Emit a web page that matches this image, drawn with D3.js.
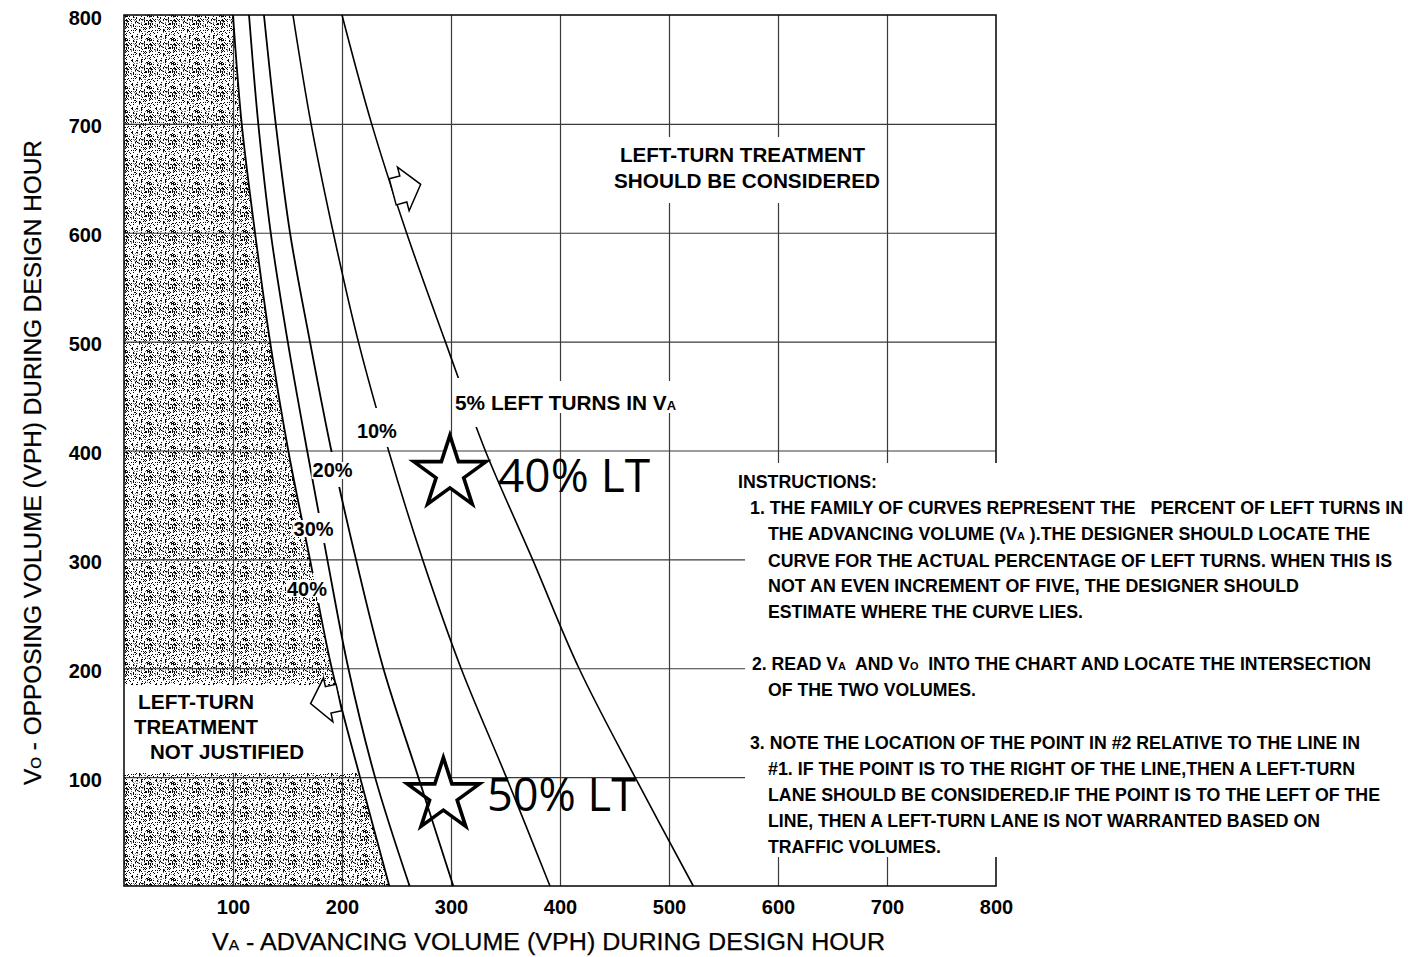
<!DOCTYPE html>
<html><head><meta charset="utf-8">
<script src="https://cdn.jsdelivr.net/npm/d3@7"></script>
<style>
html,body{margin:0;padding:0;background:#fff;}
svg{display:block;}
text{font-family:"Liberation Sans",Arial,Helvetica,sans-serif;fill:#000;white-space:pre;}
.heavy{stroke:#000;stroke-width:0.25px;}
</style></head><body>
<svg id="chart" width="1408" height="957"></svg>
<script>
// ---------------- DATA ----------------
const opposingVolumes = [800, 700, 600, 500, 400, 300, 200, 100, 0];        // Vo (vph)
const advancing40 = [100, 108, 120.2, 134, 150.7, 170.6, 190.6, 216.5, 243.4]; // Va for 40% LT
const advancing30 = [114.7, 123.2, 134.6, 150.2, 168, 186.5, 205.8, 230.3, 262];
const advancing20 = [128.4, 139.2, 152.3, 170.6, 190.2, 212.8, 237.9, 270, 302.1];
const advancing10 = [155, 171.6, 192, 215, 242.7, 273.9, 309.2, 350.7, 390.8];
const advancing5  = [200, 227.2, 259.2, 294.8, 331.4, 374.8, 417.4, 468.8, 522.3];
const seriesNames = ["40%", "30%", "20%", "10%", "5%"];
const xTickValues = [100, 200, 300, 400, 500, 600, 700, 800];
const yTickValues = [100, 200, 300, 400, 500, 600, 700, 800];
const gridValues  = [100, 200, 300, 400, 500, 600, 700];
// example points (stars): [Va, Vo, label]
const examplePoints = [[299, 379, "40% LT"], [293, 83, "50% LT"]];

// ---------------- SETUP ----------------
const svg = d3.select("#chart");
const x = d3.scaleLinear().domain([0, 800]).range([124, 996]);
const y = d3.scaleLinear().domain([0, 800]).range([886, 15]);
const plotW = x(800) - x(0), plotH = y(0) - y(800);

const defs = svg.append("defs");
// stipple texture
const tile = 24;
const pat = defs.append("pattern").attr("id", "stipple").attr("patternUnits", "userSpaceOnUse")
  .attr("width", tile).attr("height", tile);
pat.append("rect").attr("width", tile).attr("height", tile).attr("fill", "#fff");
function hash(i, j) {
  let h = Math.imul(i * 374761393 + j * 668265263, 1274126177);
  h ^= h >>> 13; h = Math.imul(h, 1274126177); h ^= h >>> 16;
  return (h >>> 0) % 100;
}
for (let i = 0; i < tile; i++) for (let j = 0; j < tile; j++) {
  const h = hash(i, j);
  if (h < 20) pat.append("rect").attr("x", i).attr("y", j).attr("width", 1).attr("height", 1).attr("fill", "#000");
  else if (h < 26) pat.append("rect").attr("x", i).attr("y", j).attr("width", 1).attr("height", 1).attr("fill", "#777");
}
// clip for shading (band without shading around the "not justified" label)
const clip = defs.append("clipPath").attr("id", "shadeClip");
clip.append("rect").attr("x", x(0)).attr("y", y(800)).attr("width", plotW).attr("height", y(184.5) - y(800));
clip.append("rect").attr("x", x(0)).attr("y", y(103.8)).attr("width", plotW).attr("height", y(0) - y(103.8));

// mask creating gaps in curves at labels  [Va0, Va1, Vo0, Vo1]
const curveGaps = [
  [290, 345, 421.6, 466.6],
  [216.5, 253.2, 403.2, 439],
  [179.8, 207.3, 366.5, 398.6],
  [172.5, 193.6, 315, 342.6],
  [152.3, 185.5, 259.9, 287.5]
];
const mask = defs.append("mask").attr("id", "curveMask").attr("maskUnits", "userSpaceOnUse")
  .attr("x", 0).attr("y", 0).attr("width", 1408).attr("height", 957);
mask.append("rect").attr("width", 1408).attr("height", 957).attr("fill", "#fff");
curveGaps.forEach(g => mask.append("rect").attr("x", x(g[0])).attr("width", x(g[1]) - x(g[0]))
  .attr("y", y(g[3])).attr("height", y(g[2]) - y(g[3])).attr("fill", "#000"));

// ---------------- SHADING ----------------
const shadeData = opposingVolumes.map((v, i) => [advancing40[i], v]);
svg.append("path").datum(shadeData)
  .attr("clip-path", "url(#shadeClip)")
  .attr("fill", "url(#stipple)")
  .attr("d", d3.area().y(d => y(d[1])).x0(x(0)).x1(d => x(d[0])).curve(d3.curveCatmullRom));

// ---------------- GRID ----------------
const gridStyle = g => { g.select(".domain").remove(); g.selectAll("line").attr("stroke", "#3a3a3a").attr("stroke-width", 1.2); };
svg.append("g").attr("transform", `translate(0,${y(0)})`)
  .call(d3.axisBottom(x).tickValues(gridValues).tickSize(-plotH).tickFormat(""))
  .call(gridStyle);
svg.append("g").attr("transform", `translate(${x(0)},0)`)
  .call(d3.axisLeft(y).tickValues(gridValues).tickSize(-plotW).tickFormat(""))
  .call(gridStyle);

// white boxes that interrupt grid lines behind texts
const white = (x0, y0, w, h) => svg.append("rect").attr("x", x0).attr("y", y0).attr("width", w).attr("height", h).attr("fill", "#fff");
white(608, 137, 276, 66);
white(453, 381, 227, 32);
white(x(0) + 1, y(184.5), 213, y(103.8) - y(184.5));

// border
svg.append("rect").attr("x", x(0)).attr("y", y(800)).attr("width", plotW).attr("height", plotH)
  .attr("fill", "none").attr("stroke", "#111").attr("stroke-width", 1.6);

// instructions box (covers grid)
white(745, 463, 663, 394);

const starG = svg.append("g");

// ---------------- CURVES ----------------
const curveSeries = [advancing40, advancing30, advancing20, advancing10, advancing5];
const line = d3.line().x(d => x(d[0])).y(d => y(d[1])).curve(d3.curveCatmullRom);
const curvesG = svg.append("g").attr("mask", "url(#curveMask)");
curveSeries.forEach((s, k) => {
  curvesG.append("path").datum(opposingVolumes.map((v, i) => [s[i], v]))
    .attr("fill", "none").attr("stroke", "#000").attr("stroke-width", k < 3 ? 1.8 : 1.6)
    .attr("d", line);
});

// ---------------- STARS ----------------
const starPath = d3.symbol(d3.symbolStar, 38 * 38 / 0.8908130915292852)();
examplePoints.forEach((p) => {
  starG.append("path").attr("d", starPath).attr("transform", `translate(${x(p[0])},${y(p[1])})`)
    .attr("fill", "#fff").attr("stroke", "#000").attr("stroke-width", 3.6).attr("stroke-linejoin", "miter");
});
const ltTexts = [[498, 491.5, 152], [487, 811, 149]];
examplePoints.forEach((p, i) => {
  const [tx, ty, tw] = ltTexts[i];
  svg.insert("rect", "g").attr("x", tx - 1).attr("y", ty - 33).attr("width", tw + 2).attr("height", 35).attr("fill", "#fff");
  svg.append("text").attr("x", tx).attr("y", ty).text(p[2])
    .style("font-family", "'Open Sans','Noto Sans',sans-serif")
    .attr("font-size", 45).attr("textLength", tw).attr("lengthAdjust", "spacingAndGlyphs");
});

// ---------------- ARROWS ----------------
const arrowShape = [[0, -13.5], [11, -13.5], [11, -22.5], [29, 0], [11, 22.5], [11, 13.5], [0, 13.5]];
const arrows = [[246.5, 637.6, -15], [197.2, 173.1, 168]];
arrows.forEach(a => {
  svg.append("path").attr("d", d3.line()(arrowShape) + "Z")
    .attr("transform", `translate(${x(a[0])},${y(a[1])}) rotate(${a[2]})`)
    .attr("fill", "#fff").attr("stroke", "#000").attr("stroke-width", 1.5).attr("stroke-linejoin", "miter");
});

// ---------------- TEXT HELPERS ----------------
function rich(sel, str, size) {
  const parts = str.split(/(\{[^}]*\})/);
  parts.forEach(p => {
    if (!p) return;
    if (p[0] === "{") sel.append("tspan").attr("font-size", size * 0.62).text(p.slice(1, -1));
    else sel.append("tspan").text(p);
  });
  return sel;
}
function label(str, tx, ty, size, w, opts = {}) {
  const t = svg.append("text").attr("x", tx).attr("y", ty).attr("font-size", size)
    .attr("font-weight", opts.bold === false ? "normal" : "bold")
    .attr("text-anchor", opts.anchor || "start");
  if (opts.bold === false) t.attr("class", "heavy");
  if (opts.rotate) t.attr("transform", `rotate(${opts.rotate},${tx},${ty})`);
  rich(t, str, size);
  if (w) t.attr("textLength", w).attr("lengthAdjust", "spacingAndGlyphs");
  return t;
}

// percent labels on curves (with white background)
const pctPos = [[167.9, 273.7], [173.9, 328.8], [191.3, 382.1], [232, 418.8]];
pctPos.forEach((p, i) => {
  const cx = x(p[0]);
  const t = svg.append("text").attr("x", cx - 20).attr("y", y(p[1]) + 7.5)
    .attr("font-size", 20).attr("font-weight", "bold").text(seriesNames[i])
    .attr("textLength", 40).attr("lengthAdjust", "spacingAndGlyphs");
  svg.insert("rect", () => t.node()).attr("x", cx - 21).attr("y", y(p[1]) - 8).attr("width", 42).attr("height", 17).attr("fill", "#fff");
});
label("5% LEFT TURNS IN V{A}", x(303.7), 410, 20, 221);

label("LEFT-TURN TREATMENT", 620, 162, 20.5, 245);
label("SHOULD BE CONSIDERED", 614, 188, 20.5, 266);
label("LEFT-TURN", 138, 709, 21, 116);
label("TREATMENT", 134, 734, 21, 124);
label("NOT JUSTIFIED", 150, 759, 21, 154);

// ---------------- AXES ----------------
const axStyle = (g, size) => {
  g.select(".domain").remove();
  g.selectAll("text").attr("font-size", size).attr("font-weight", "bold").attr("fill", "#000")
    .attr("font-family", "'Liberation Sans',Arial,sans-serif");
};
svg.append("g").attr("transform", `translate(0,${y(0)})`)
  .call(d3.axisBottom(x).tickValues(xTickValues).tickSize(0).tickPadding(14).tickFormat(d3.format("d")))
  .call(g => axStyle(g, 20));
svg.append("g").attr("transform", `translate(${x(0)},0)`)
  .call(d3.axisLeft(y).tickValues(yTickValues).tickSize(0).tickPadding(22).tickFormat(d3.format("d")))
  .call(g => axStyle(g, 20))
  .call(g => g.selectAll("text").attr("dy", "0.45em"));

label("V{A} - ADVANCING VOLUME (VPH) DURING DESIGN HOUR", 212, 950, 23, 673, { bold: false });
label("V{O} - OPPOSING VOLUME (VPH) DURING DESIGN HOUR", 41, 785, 23, 645, { rotate: -90, bold: false });

// ---------------- INSTRUCTIONS ----------------
const instructionLines = [
  ["INSTRUCTIONS:", 738, 481, 139],
  ["1. THE FAMILY OF CURVES REPRESENT THE   PERCENT OF LEFT TURNS IN", 750, 507, 653],
  ["THE ADVANCING VOLUME (V{A} ).THE DESIGNER SHOULD LOCATE THE", 768, 533, 602],
  ["CURVE FOR THE ACTUAL PERCENTAGE OF LEFT TURNS. WHEN THIS IS", 768, 560, 624],
  ["NOT AN EVEN INCREMENT OF FIVE, THE DESIGNER SHOULD", 768, 585, 531],
  ["ESTIMATE WHERE THE CURVE LIES.", 768, 611, 315],
  ["2. READ V{A}  AND V{O}  INTO THE CHART AND LOCATE THE INTERSECTION", 752, 663, 619],
  ["OF THE TWO VOLUMES.", 768, 689, 208],
  ["3. NOTE THE LOCATION OF THE POINT IN #2 RELATIVE TO THE LINE IN", 750, 742, 610],
  ["#1. IF THE POINT IS TO THE RIGHT OF THE LINE,THEN A LEFT-TURN", 768, 768, 587],
  ["LANE SHOULD BE CONSIDERED.IF THE POINT IS TO THE LEFT OF THE", 768, 794, 612],
  ["LINE, THEN A LEFT-TURN LANE IS NOT WARRANTED BASED ON", 768, 820, 552],
  ["TRAFFIC VOLUMES.", 768, 846, 173]
];
instructionLines.forEach(l => label(l[0], l[1], l[2] + 6.5, 17.5, l[3]));
</script>
</body></html>
